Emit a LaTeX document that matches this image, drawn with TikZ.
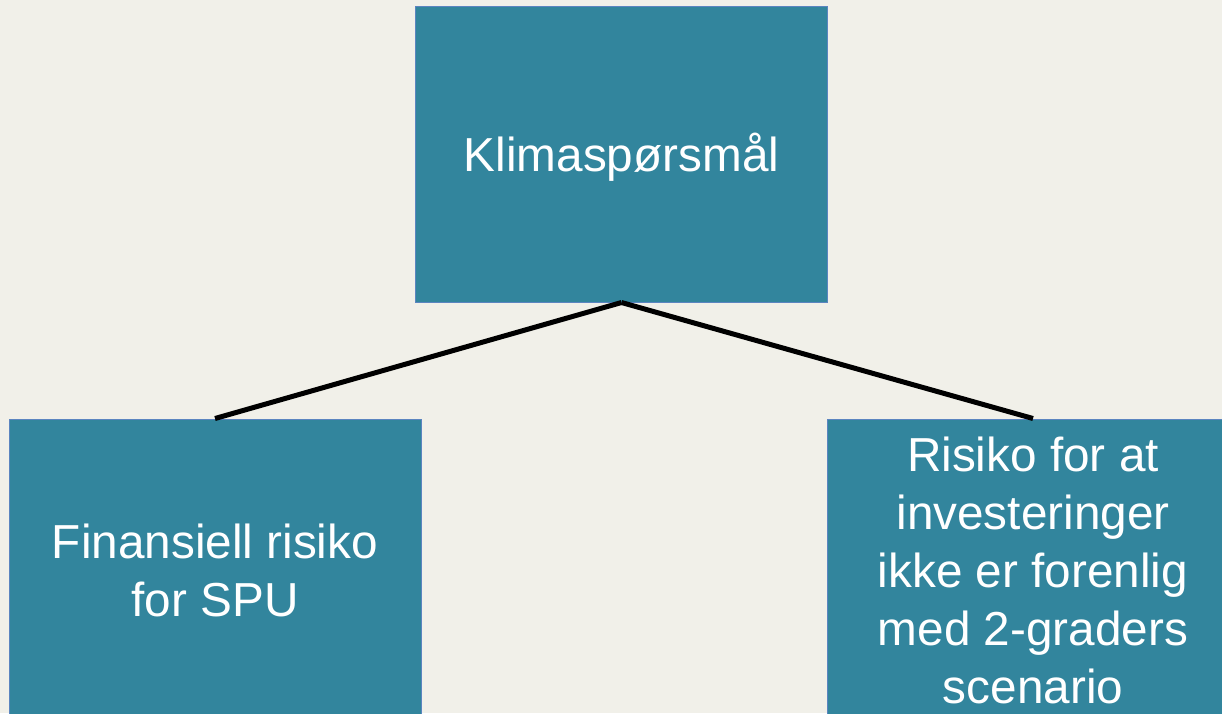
\documentclass[tikz,border=0pt]{standalone}
\usepackage{fontspec}
\setmainfont{Liberation Sans}
\definecolor{bg}{HTML}{F1F0E9}
\definecolor{boxfill}{HTML}{32859D}
\definecolor{boxline}{HTML}{5B85C0}
\begin{document}
\begin{tikzpicture}[x=1pt,y=-1pt,
  box/.style={draw=boxline,line width=1pt,fill=boxfill,text=white,
    minimum width=412pt,minimum height=296pt,inner sep=0pt,
    align=center,font=\fontsize{47.7}{58}\selectfont},
  lbl/.style={text=white,inner sep=0pt,align=center,font=\fontsize{47.7}{58}\selectfont},
  conn/.style={line width=5pt,draw=black}]
\useasboundingbox (0,0) rectangle (1222,713);
\clip (0,0) rectangle (1222,713);
\fill[bg] (0,0) rectangle (1222,713);
\node[box] (top) at (621.5,154) {};
\node[box] (left) at (215,567) {};
\node[box] (right) at (1033,567) {};
\node[lbl] (toplbl) at (621.5,157) {Klimaspørsmål};
\node[lbl] (leftlbl) at (215,570) {Finansiell risiko\\for SPU};
\node[lbl] (rightlbl) at (1033,570) {Risiko for at\\investeringer\\ikke er forenlig\\med 2-graders\\scenario};
\draw[conn] (top.south) -- (left.north);
\draw[conn] (top.south) -- (right.north);
\end{tikzpicture}
\end{document}
